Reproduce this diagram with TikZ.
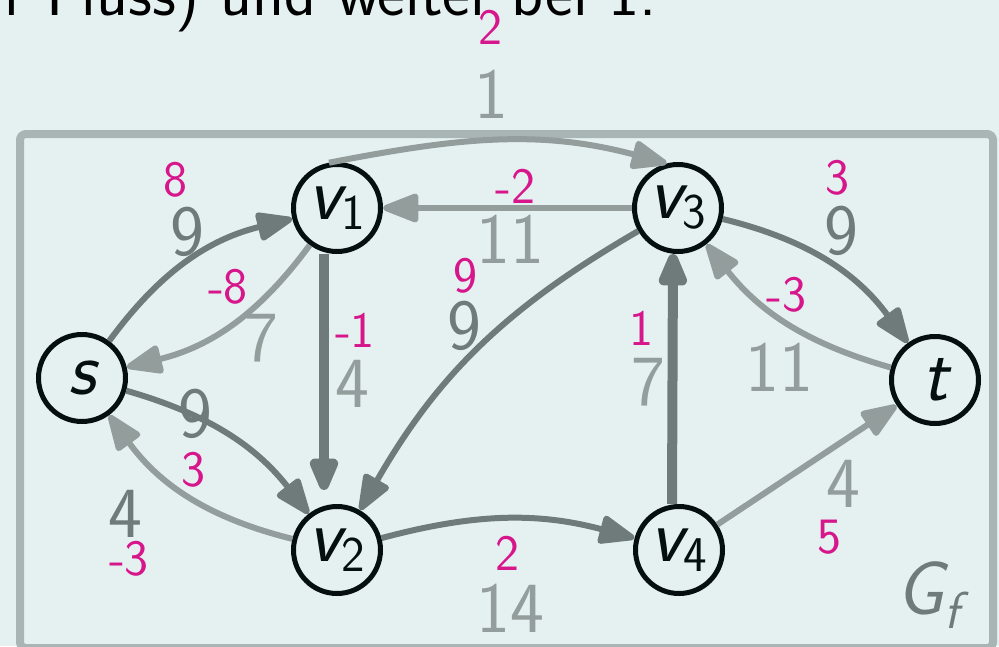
\documentclass[tikz,border=0pt]{standalone}
\usepackage{fontspec}
\setsansfont{Latin Modern Sans}
\usetikzlibrary{arrows.meta}
\definecolor{bg}{HTML}{E5F1F1}
\definecolor{framegray}{HTML}{A9B5B4}
\definecolor{dkgray}{HTML}{6F7B7A}
\definecolor{ltgray}{HTML}{929D9C}
\definecolor{flowmag}{HTML}{D7168B}
\definecolor{ink}{HTML}{050F0F}
\newcommand\capfont{\sffamily\fontsize{72}{80}\selectfont}
\newcommand\flowfont{\sffamily\fontsize{51}{60}\selectfont}
\newcommand\vsym[1]{{\sffamily\fontsize{76}{80}\selectfont\itshape #1}}
\newcommand\vsub[2]{\vsym{#1}\raisebox{-10pt}{\sffamily\fontsize{50}{56}\selectfont #2}}
\begin{document}
\begin{tikzpicture}[x=1pt,y=1pt,
  vtx/.style={circle, draw=ink, line width=5pt, fill=bg, minimum size=87pt,
    inner sep=0pt, text=ink},
  flowedge/.style={line width=6pt, -{Triangle[length=41pt,width=30pt,round]}},
  fwd/.style={flowedge, draw=dkgray},
  bwd/.style={flowedge, draw=ltgray},
  heavy/.style={line width=10pt},
  capd/.style={font=\capfont, text=dkgray, inner sep=0pt},
  capl/.style={font=\capfont, text=ltgray, inner sep=0pt},
  flow/.style={font=\flowfont, text=flowmag, inner sep=0pt}]
\useasboundingbox (0,0) rectangle (999,-646);
\fill[bg] (0,0) rectangle (999,-646);

% running text above the graph
\node[anchor=base east, inner sep=0pt, text=black,
  font=\sffamily\fontsize{66}{76}\selectfont] (intro) at (657,-15)
  {r Fluss) und weiter bei 1.};

% frame of the residual graph
\draw[framegray, line width=8pt, rounded corners=6pt] (20,-134) rectangle (993,-648);

% vertices
\node[vtx] (s)  at (82,-378)  {\vsym{s}};
\node[vtx] (v1) at (337,-208) {\vsub{v}{1}};
\node[vtx] (v2) at (337,-550) {\vsub{v}{2}};
\node[vtx] (v3) at (678,-208) {\vsub{v}{3}};
\node[vtx] (v4) at (679,-550) {\vsub{v}{4}};
\node[vtx] (t)  at (935,-380) {\vsym{t}};

% residual edges
\draw[fwd] (s) to[bend left=20] (v1);
\draw[bwd] (v1) to[bend left=20] (s);
\draw[fwd] (s) to[bend left=18] (v2);
\draw[bwd] (v2) to[bend left=20] (s);
\draw[bwd] (v1.100) to[out=11,in=165] (v3.104);
\draw[bwd] (v3) -- (v1);
\draw[fwd, heavy, shorten >=14pt] ([xshift=-13pt]v1.south) -- ([xshift=-13pt]v2.north);
\draw[fwd] (v3) to[bend right=15] (v2);
\draw[fwd, heavy] ([xshift=-7pt]v4.north) -- ([xshift=-5pt]v3.south);
\draw[fwd] (v3) to[bend left=20] (t);
\draw[bwd] (t) to[bend left=18] (v3);
\draw[fwd] (v2) to[bend left=15] (v4);
\draw[bwd] (v4) -- (t);

% capacities
\node[capd] (c1)  at (187,-232) {9};
\node[capl] (c2)  at (261,-338) {7};
\node[capd] (c3)  at (195,-414) {9};
\node[capd] (c4)  at (125,-514) {4};
\node[capl] (c5)  at (352,-384) {4};
\node[capl] (c6)  at (491,-94)  {1};
\node[capl] (c7)  at (510,-239) {11};
\node[capd] (c8)  at (464,-326) {9};
\node[capl] (c9)  at (648,-382) {7};
\node[capd] (c10) at (841,-231) {9};
\node[capl] (c11) at (779,-367) {11};
\node[capl] (c12) at (843,-484) {4};
\node[capl] (c13) at (510,-608) {14};

% flow values
\node[flow] (f1)  at (175,-180) {8};
\node[flow] (f2)  at (228,-287) {-8};
\node[flow] (f3)  at (355,-330) {-1};
\node[flow] (f4)  at (490,-27)  {2};
\node[flow] (f5)  at (515,-186) {-2};
\node[flow] (f6)  at (465,-276) {9};
\node[flow] (f7)  at (193,-470) {3};
\node[flow] (f8)  at (129,-559) {-3};
\node[flow] (f9)  at (641,-328) {1};
\node[flow] (f10) at (837,-178) {3};
\node[flow] (f11) at (786,-295) {-3};
\node[flow] (f12) at (507,-553) {2};
\node[flow] (f13) at (829,-537) {5};

% graph name
\node[inner sep=0pt, text=dkgray] (gname) at (928,-595)
  {\vsym{G}\raisebox{-14pt}{\sffamily\fontsize{52}{56}\selectfont\itshape f}};
\end{tikzpicture}
\end{document}
